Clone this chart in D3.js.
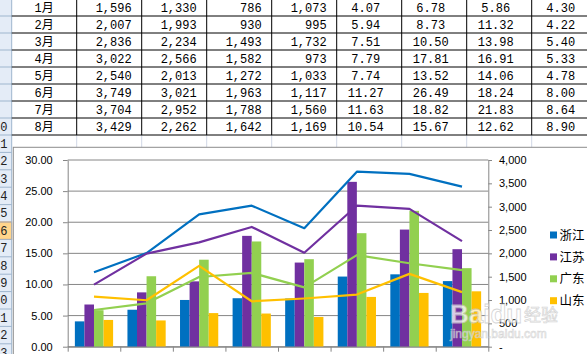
<!DOCTYPE html>
<html>
<head>
<meta charset="utf-8">
<script src="https://cdn.jsdelivr.net/npm/d3@7"></script>
<style>
  body { margin: 0; background: #fff; }
  svg { display: block; }
</style>
</head>
<body>
<svg id="chart"></svg>
<script>
const months = ["1月", "2月", "3月", "4月", "5月", "6月", "7月", "8月"];
const series = ["浙江", "江苏", "广东", "山东"];
const colors = ["#0070C0", "#7030A0", "#92D050", "#FFC000"];

// 数量 (折线, 右轴)
const countZJ = [1596, 2007, 2836, 3022, 2540, 3749, 3704, 3429];
const countJS = [1330, 1993, 2234, 2566, 2013, 3021, 2952, 2262];
const countGD = [786, 930, 1493, 1582, 1272, 1963, 1788, 1642];
const countSD = [1073, 995, 1732, 973, 1033, 1117, 1560, 1169];

// 比率 (柱形, 左轴)
const rateZJ = [4.07, 5.94, 7.51, 7.79, 7.74, 11.27, 11.63, 10.54];
const rateJS = [6.78, 8.73, 10.50, 17.81, 13.52, 26.49, 18.82, 15.67];
const rateGD = [5.86, 11.32, 13.98, 16.91, 14.06, 18.24, 21.83, 12.62];
const rateSD = [4.30, 4.22, 5.40, 5.33, 4.78, 8.00, 8.64, 8.90];

const leftTicks = [0, 5, 10, 15, 20, 25, 30];
const rightTicks = [0, 500, 1000, 1500, 2000, 2500, 3000, 3500, 4000];

const counts = [countZJ, countJS, countGD, countSD];
const rates = [rateZJ, rateJS, rateGD, rateSD];

const width = 587;
const height = 354;

const svg = d3.select("#chart")
    .attr("width", width)
    .attr("height", height);

// ---------- 工作表部分 ----------
const colX = i => 11.7 + 65 * i;
const rowY = i => -1 + 17 * i;
const tableFont = "'Liberation Mono', 'Noto Sans CJK SC', monospace";

// 行号栏
svg.append("rect")
    .attr("x", -1).attr("y", -1)
    .attr("width", 12.7).attr("height", height + 2)
    .attr("fill", "#E4ECF7");

const rowNums = d3.range(10, 24);
const rowTop = n => n <= 10 ? rowY(n - 3) : 135 + (n - 11) * 17.4;
const rowH = n => n <= 10 ? 17 : 17.4;

svg.append("rect")
    .attr("x", -1).attr("y", rowTop(16))
    .attr("width", 12.7).attr("height", rowH(16))
    .attr("fill", "#FFD58C")
    .attr("stroke", "#F29436");

svg.selectAll(".hdr-line")
    .data(d3.range(3, 24))
    .enter()
    .append("line")
    .attr("x1", 0).attr("x2", 11.7)
    .attr("y1", n => rowTop(n) + rowH(n))
    .attr("y2", n => rowTop(n) + rowH(n))
    .attr("stroke", "#9EB6CE");

svg.selectAll(".hdr-num")
    .data(rowNums)
    .enter()
    .append("text")
    .attr("x", 7.5)
    .attr("y", n => rowTop(n) + rowH(n) / 2 + 4)
    .attr("text-anchor", "end")
    .attr("font-family", tableFont)
    .attr("font-size", 12)
    .attr("fill", "#222")
    .text(n => n);

svg.append("line")
    .attr("x1", 11.7).attr("x2", 11.7)
    .attr("y1", 0).attr("y2", height)
    .attr("stroke", "#9EB6CE");

// 工作表网格线 (表格下方)
svg.selectAll(".sheet-grid")
    .data(d3.range(1, 10))
    .enter()
    .append("line")
    .attr("x1", colX).attr("x2", colX)
    .attr("y1", 135).attr("y2", 150)
    .attr("stroke", "#D0D7E5");

// 表格边框
svg.selectAll(".tb-h")
    .data(d3.range(1, 9))
    .enter()
    .append("line")
    .attr("x1", colX(0)).attr("x2", width)
    .attr("y1", rowY).attr("y2", rowY)
    .attr("stroke", "#000");

svg.selectAll(".tb-v")
    .data(d3.range(1, 9))
    .enter()
    .append("line")
    .attr("x1", colX).attr("x2", colX)
    .attr("y1", 0).attr("y2", rowY(8))
    .attr("stroke", "#000");

// 表格文字
const fmtCount = d3.format(",");
const cells = [];
months.forEach((m, r) => {
    cells.push({ r, x: colX(0) + 32.5, anchor: "middle", text: m });
    counts.forEach((arr, c) => {
        cells.push({ r, x: colX(c + 2) - 10, anchor: "end", text: fmtCount(arr[r]) });
    });
    rates.forEach((arr, c) => {
        cells.push({ r, x: colX(c + 5) + 29, anchor: "middle", text: arr[r].toFixed(2) });
    });
});

svg.selectAll(".cell")
    .data(cells)
    .enter()
    .append("text")
    .attr("x", d => d.x)
    .attr("y", d => rowY(d.r) + 12.5)
    .attr("text-anchor", d => d.anchor)
    .attr("font-family", tableFont)
    .attr("font-size", 12)
    .attr("fill", "#000")
    .text(d => d.text);

// ---------- 图表部分 ----------
svg.append("rect")
    .attr("x", 13.3).attr("y", 147.3)
    .attr("width", 600).attr("height", 300)
    .attr("fill", "#fff")
    .attr("stroke", "#8C8C8C");

const plotL = 67.7, plotR = 488.3, plotT = 160, plotB = 346.7;

const x = d3.scaleBand()
    .domain(months)
    .range([plotL, plotR]);

const gap = x.bandwidth() * 1.5 / 5.5;
const xs = d3.scaleBand()
    .domain(series)
    .range([gap / 2, x.bandwidth() - gap / 2]);

const yL = d3.scaleLinear().domain([0, 30]).range([plotB, plotT]);
const yR = d3.scaleLinear().domain([0, 4000]).range([plotB, plotT]);

const axisFont = "'Liberation Sans', Arial, sans-serif";

// 网格线
svg.selectAll(".grid")
    .data(leftTicks)
    .enter()
    .append("line")
    .attr("x1", plotL).attr("x2", plotR)
    .attr("y1", d => yL(d)).attr("y2", d => yL(d))
    .attr("stroke", "#868686");

// 柱形
series.forEach((s, si) => {
    svg.selectAll(".bar-" + si)
        .data(rates[si])
        .enter()
        .append("rect")
        .attr("x", (_, i) => x(months[i]) + xs(s))
        .attr("y", d => yL(d))
        .attr("width", xs.bandwidth())
        .attr("height", d => plotB - yL(d))
        .attr("fill", colors[si]);
});

// 折线
const line = d3.line()
    .x((_, i) => x(months[i]) + x.bandwidth() / 2)
    .y(d => yR(d));

series.forEach((s, si) => {
    svg.append("path")
        .datum(counts[si])
        .attr("d", line)
        .attr("fill", "none")
        .attr("stroke", colors[si])
        .attr("stroke-width", 2.2)
        .attr("stroke-linejoin", "round");
});

// 左轴
const gL = svg.append("g")
    .attr("transform", `translate(${plotL},0)`)
    .call(d3.axisLeft(yL).tickValues(leftTicks)
        .tickFormat(d3.format(".2f"))
        .tickSizeInner(4.7).tickSizeOuter(0).tickPadding(10.3));

// 右轴
const gR = svg.append("g")
    .attr("transform", `translate(${plotR},0)`)
    .call(d3.axisRight(yR).tickValues(rightTicks)
        .tickFormat(d => d === 0 ? "-" : d3.format(",")(d))
        .tickSizeInner(3.7).tickSizeOuter(0).tickPadding(7));

// 分类轴刻度
const xIdx = d3.scaleLinear().domain([0, months.length]).range([plotL, plotR]);
const gB = svg.append("g")
    .attr("transform", `translate(0,${plotB})`)
    .call(d3.axisBottom(xIdx).tickValues(d3.range(months.length + 1))
        .tickFormat("").tickSizeInner(5).tickSizeOuter(0));

[gL, gR, gB].forEach(g => {
    g.selectAll("path, line").attr("stroke", "#868686");
    g.selectAll("text")
        .attr("font-family", axisFont)
        .attr("font-size", 11)
        .attr("fill", "#000");
});

// 图例
const legend = svg.selectAll(".legend")
    .data(series)
    .enter()
    .append("g")
    .attr("transform", (_, i) => `translate(550,${235 + i * 21.9})`);

legend.append("rect")
    .attr("x", 0).attr("y", -3.5)
    .attr("width", 7).attr("height", 7)
    .attr("fill", (_, i) => colors[i]);

legend.append("text")
    .attr("x", 9.5).attr("y", 4.6)
    .attr("font-family", "'Noto Sans CJK SC', sans-serif")
    .attr("font-size", 12.5)
    .attr("fill", "#000")
    .text(d => d);

// 水印
const wm = svg.append("g").attr("opacity", 0.75);
wm.append("text")
    .attr("x", 450).attr("y", 323)
    .attr("font-family", axisFont)
    .attr("font-size", 26)
    .attr("font-weight", "bold")
    .attr("fill", "#fff")
    .attr("stroke", "#C8C8C8")
    .attr("stroke-width", 0.8)
    .text("Baidu");
wm.append("text")
    .attr("x", 524).attr("y", 321)
    .attr("font-family", "'Noto Sans CJK SC', sans-serif")
    .attr("font-size", 17)
    .attr("fill", "#fff")
    .attr("stroke", "#C8C8C8")
    .attr("stroke-width", 0.7)
    .text("经验");
wm.append("text")
    .attr("x", 450).attr("y", 338)
    .attr("font-family", axisFont)
    .attr("font-size", 12)
    .attr("fill", "#fff")
    .attr("stroke", "#C8C8C8")
    .attr("stroke-width", 0.6)
    .text("jingyan.baidu.com");
</script>
</body>
</html>
